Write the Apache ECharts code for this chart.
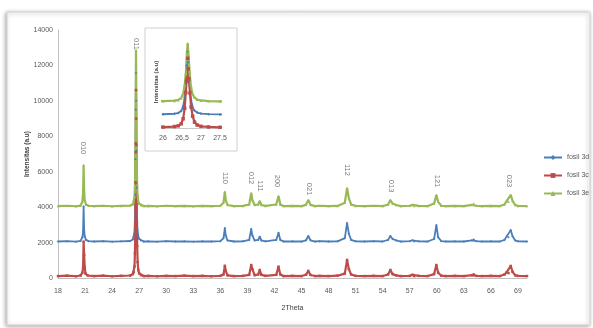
<!DOCTYPE html>
<html>
<head>
<meta charset="utf-8">
<script src="https://cdn.jsdelivr.net/npm/echarts@6/dist/echarts.min.js"></script>
<style>
  html, body { margin: 0; padding: 0; background: #fff; }
  #chart { width: 593px; height: 328px; }
</style>
</head>
<body>
<div id="chart"></div>
<script>
// 2Theta / intensity pairs
var fosil3d = [
  [18, 2060], [19, 2080], [20, 2050], [20.5, 2090], [20.7, 2300], [20.78, 2610], [20.84, 4030], [20.9, 2700],
  [20.96, 2350], [21.1, 2150], [21.4, 2080], [22, 2060], [23, 2080], [24, 2050], [25, 2070], [26, 2090],
  [26.3, 2170], [26.4, 2280], [26.48, 2600], [26.53, 3300], [26.57, 4700], [26.6, 6700], [26.62, 9500],
  [26.64, 11570], [26.66, 10000], [26.69, 7200], [26.72, 5100], [26.76, 3600], [26.81, 2750], [26.9, 2350],
  [27, 2200], [27.2, 2110], [27.5, 2060],
  [28, 2070], [29, 2050], [30, 2080], [31, 2060], [32, 2070], [33, 2050], [34, 2070], [35, 2060],
  [36, 2080], [36.35, 2250], [36.5, 2820], [36.6, 2400], [36.8, 2120], [37.5, 2060], [38.5, 2070],
  [39.2, 2150], [39.42, 2770], [39.55, 2400], [39.8, 2120], [40.2, 2150], [40.37, 2330], [40.55, 2120],
  [41, 2070], [42.2, 2150], [42.45, 2560], [42.65, 2150], [43, 2060], [44, 2070], [45, 2060],
  [45.5, 2130], [45.75, 2370], [46, 2130], [46.5, 2060], [47, 2080], [48, 2060], [49, 2070],
  [49.8, 2250], [50.05, 3100], [50.25, 2500], [50.5, 2150], [51, 2070], [52, 2060], [53, 2080],
  [54, 2060], [54.6, 2150], [54.85, 2370], [55.1, 2200], [55.5, 2120], [56, 2060], [57, 2080],
  [57.3, 2130], [57.5, 2060], [58, 2070], [59, 2060], [59.7, 2200], [59.95, 2990], [60.15, 2300],
  [60.5, 2080], [61, 2060], [62, 2070], [63, 2060], [63.9, 2130], [64.1, 2180], [64.4, 2080],
  [65, 2060], [66, 2070], [67, 2060], [67.5, 2150], [67.75, 2350], [67.95, 2300], [68.2, 2710],
  [68.4, 2350], [68.7, 2120], [69, 2070], [70, 2060]
];
var fosil3c = [
  [18, 110], [19, 130], [20, 100], [20.5, 140], [20.7, 300], [20.78, 560], [20.84, 2050], [20.9, 1300],
  [20.96, 600], [21.05, 250], [21.3, 140], [22, 110], [23, 130], [24, 100], [25, 120], [26, 140],
  [26.3, 220], [26.4, 330], [26.48, 650], [26.53, 1400], [26.57, 3000], [26.6, 5400], [26.62, 7100],
  [26.635, 7600], [26.65, 10610], [26.665, 9000], [26.68, 7500], [26.71, 5300], [26.74, 3200],
  [26.78, 1800], [26.83, 900], [26.9, 450], [27, 260], [27.2, 160], [27.5, 110],
  [28, 120], [29, 100], [30, 120], [31, 110], [32, 130], [33, 110], [34, 120], [35, 100],
  [36, 120], [36.35, 200], [36.5, 690], [36.6, 400], [36.8, 150], [37.5, 110], [38.5, 120],
  [39.2, 180], [39.42, 730], [39.55, 500], [39.8, 160], [40.2, 200], [40.37, 450], [40.55, 180],
  [41, 120], [42.2, 180], [42.45, 640], [42.65, 200], [43, 110], [44, 120], [45, 110],
  [45.5, 180], [45.75, 400], [46, 170], [46.5, 110], [47, 120], [48, 110], [49, 130],
  [49.8, 250], [50.05, 1020], [50.25, 500], [50.5, 200], [51, 120], [52, 110], [53, 120],
  [54, 110], [54.6, 200], [54.85, 450], [55.1, 220], [55.5, 150], [56, 110], [57, 120],
  [57.3, 180], [57.5, 110], [58, 120], [59, 110], [59.7, 220], [59.95, 730], [60.15, 300],
  [60.5, 130], [61, 110], [62, 120], [63, 110], [63.9, 160], [64.1, 200], [64.4, 120],
  [65, 110], [66, 120], [67, 110], [67.5, 200], [67.75, 330], [67.95, 280], [68.2, 680],
  [68.4, 350], [68.7, 150], [69, 120], [70, 110]
];
var fosil3e = [
  [18, 4060], [19, 4080], [20, 4050], [20.5, 4090], [20.7, 4300], [20.78, 4800], [20.84, 6380], [20.9, 4900],
  [20.96, 4400], [21.1, 4150], [21.4, 4080], [22, 4060], [23, 4080], [24, 4050], [25, 4070], [26, 4090],
  [26.3, 4160], [26.4, 4270], [26.48, 4580], [26.53, 5200], [26.57, 6500], [26.6, 8300], [26.63, 11500],
  [26.65, 12870], [26.67, 11300], [26.7, 8500], [26.73, 6600], [26.77, 5300], [26.82, 4700], [26.9, 4330],
  [27, 4190], [27.2, 4100], [27.5, 4060],
  [28, 4070], [29, 4050], [30, 4080], [31, 4060], [32, 4070], [33, 4050], [34, 4070], [35, 4060],
  [36, 4080], [36.35, 4250], [36.5, 4870], [36.6, 4400], [36.8, 4120], [37.5, 4060], [38.5, 4070],
  [39.2, 4150], [39.42, 4800], [39.55, 4400], [39.8, 4120], [40.2, 4150], [40.37, 4350], [40.55, 4120],
  [41, 4070], [42.2, 4150], [42.45, 4630], [42.65, 4150], [43, 4060], [44, 4070], [45, 4060],
  [45.5, 4130], [45.75, 4400], [46, 4130], [46.5, 4060], [47, 4080], [48, 4060], [49, 4070],
  [49.8, 4250], [50.05, 5080], [50.25, 4500], [50.5, 4150], [51, 4070], [52, 4060], [53, 4080],
  [54, 4060], [54.6, 4150], [54.85, 4400], [55.1, 4200], [55.5, 4120], [56, 4060], [57, 4080],
  [57.3, 4130], [57.5, 4060], [58, 4070], [59, 4060], [59.7, 4200], [59.95, 4690], [60.15, 4300],
  [60.5, 4080], [61, 4060], [62, 4070], [63, 4060], [63.9, 4130], [64.1, 4200], [64.4, 4080],
  [65, 4060], [66, 4070], [67, 4060], [67.5, 4150], [67.75, 4350], [67.95, 4300], [68.2, 4690],
  [68.4, 4350], [68.7, 4120], [69, 4070], [70, 4060]
];

// hkl labels: name, 2Theta, height where the label sits
var peakNames = ['010', '011', '110', '012', '111', '200', '021', '112', '013', '121', '023'];
var peakTheta = [20.8, 26.63, 36.55, 39.45, 40.45, 42.3, 45.8, 50.1, 54.9, 60.0, 68.0];
var peakLabelY = [7340, 13210, 5645, 5645, 5190, 5475, 5020, 6100, 5190, 5475, 5475];

var insetTicks = [26, 26.5, 27, 27.5];

var colors = ['#4a7ebb', '#be4b48', '#98b954'];
var font = "'Liberation Sans Narrow', 'Liberation Sans', sans-serif";

var chart = echarts.init(document.getElementById('chart'));

function line(name, data, color, symbol, size, width, xi) {
  return {
    name: name, type: 'line', data: data,
    xAxisIndex: xi, yAxisIndex: xi,
    symbol: symbol, symbolSize: size, showSymbol: true,
    lineStyle: {color: color, width: width},
    itemStyle: {color: color},
    clip: true, animation: false
  };
}

var labelData = peakNames.map(function (n, i) {
  return {name: n, value: [peakTheta[i], peakLabelY[i]]};
});

var option = {
  animation: false,
  textStyle: {fontFamily: font},
  graphic: [
    {type: 'rect', z: -10, shape: {x: 7, y: 12, width: 583, height: 313},
      style: {fill: '#fff', stroke: '#d4d4d4', lineWidth: 1,
        shadowBlur: 4, shadowColor: 'rgba(0,0,0,0.35)', shadowOffsetX: -1, shadowOffsetY: 1}},
    {type: 'rect', shape: {x: 145, y: 28, width: 92, height: 123},
      style: {fill: 'none', stroke: '#d0d0d0', lineWidth: 1}}
  ],
  legend: {
    data: ['fosil 3d', 'fosil 3c', 'fosil 3e'],
    orient: 'vertical', left: 538, top: 149,
    itemWidth: 18, itemHeight: 6, itemGap: 11,
    textStyle: {fontSize: 7, color: '#595959'}
  },
  grid: [
    {left: 58, right: 66, top: 30, bottom: 50},
    {left: 163, right: 373, top: 36, bottom: 200}
  ],
  xAxis: [
    {type: 'value', min: 18, max: 70, interval: 3,
      name: '2Theta', nameLocation: 'middle', nameGap: 27, nameMoveOverlap: false,
      nameTextStyle: {fontSize: 7, color: '#404040'},
      axisLine: {lineStyle: {color: '#c0c0c0'}},
      axisTick: {show: false}, splitLine: {show: false},
      axisLabel: {fontSize: 7, color: '#595959', margin: 10, showMaxLabel: false,
        formatter: function (v) { return (v - 18) % 3 === 0 ? String(v) : ''; }}},
    {type: 'value', gridIndex: 1, min: insetTicks[0], max: insetTicks[insetTicks.length - 1], interval: 0.5,
      axisLine: {lineStyle: {color: '#c8c8c8'}},
      axisTick: {show: false}, splitLine: {show: false},
      axisLabel: {fontSize: 7, color: '#595959', margin: 7,
        formatter: function (v) { return String(v).replace('.', ','); }}}
  ],
  yAxis: [
    {type: 'value', min: 0, max: 14000, interval: 2000,
      name: 'Intensitas (a.u)', nameLocation: 'middle', nameGap: 27, nameRotate: 90, nameMoveOverlap: false,
      nameTextStyle: {fontSize: 6.5, fontWeight: 'bold', color: '#404040'},
      axisLine: {show: true, lineStyle: {color: '#c0c0c0'}},
      axisTick: {show: false}, splitLine: {show: false},
      axisLabel: {fontSize: 7, color: '#595959', margin: 5,
        formatter: function (v) { return String(v); }}},
    {type: 'value', gridIndex: 1, min: 0, max: 14000,
      name: 'Intensitas (a.u)', nameLocation: 'middle', nameGap: 4, nameRotate: 90,
      nameTextStyle: {fontSize: 6, fontWeight: 'bold', color: '#404040'},
      axisLine: {show: false}, axisTick: {show: false},
      splitLine: {show: false}, axisLabel: {show: false}}
  ],
  series: [
    line('fosil 3d', fosil3d, colors[0], 'diamond', 2.5, 1.8, 0),
    line('fosil 3c', fosil3c, colors[1], 'rect', 2.5, 2.2, 0),
    line('fosil 3e', fosil3e, colors[2], 'triangle', 2.5, 2.2, 0),
    line('fosil 3d', fosil3d, colors[0], 'diamond', 3, 1.8, 1),
    line('fosil 3c', fosil3c, colors[1], 'rect', 3.5, 2.2, 1),
    line('fosil 3e', fosil3e, colors[2], 'triangle', 3, 2.2, 1),
    {
      name: 'hkl', type: 'scatter', data: labelData, symbolSize: 0,
      xAxisIndex: 0, yAxisIndex: 0, silent: true,
      label: {show: true, position: 'inside', rotate: -90, formatter: '{b}',
        fontSize: 7.5, color: '#595959'}
    }
  ]
};

chart.setOption(option);
</script>
</body>
</html>
